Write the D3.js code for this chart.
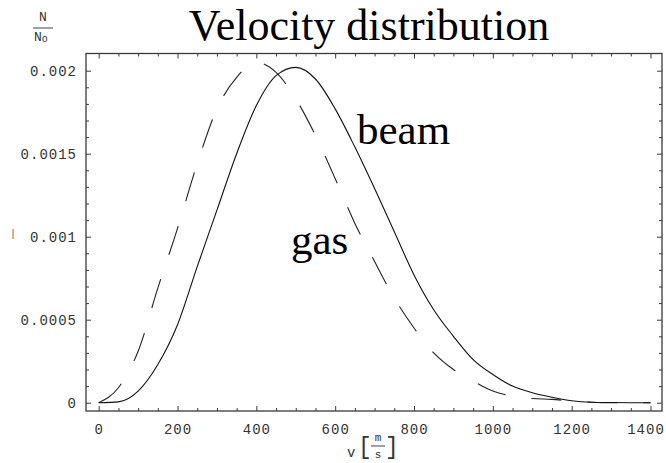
<!DOCTYPE html>
<html>
<head>
<meta charset="utf-8">
<script src="https://cdn.jsdelivr.net/npm/d3@7"></script>
<style>
  html, body { margin: 0; padding: 0; background: #fff; }
  svg { display: block; }
</style>
</head>
<body>
<svg id="chart" width="666" height="463"></svg>
<script>
// ---- data ----
const velocities = [0, 50, 100, 150, 200, 250, 300, 350, 400, 450, 500, 550, 600, 650, 700,
                    750, 800, 850, 900, 950, 1000, 1050, 1100, 1150, 1200, 1250, 1300, 1350, 1400];
const beamValues = [0, 0.000005, 0.00007, 0.00023, 0.00047, 0.00082, 0.00116, 0.00150, 0.00179, 0.00197,
                    0.00202, 0.00195, 0.00177, 0.00154, 0.00129, 0.00103, 0.00077, 0.00056, 0.00040, 0.00026,
                    0.00017, 0.00010, 0.00006, 0.000033, 0.000012, 0.000003, 0.000001, 0, 0];
const gasValues  = [0, 0.00009, 0.00031, 0.00069, 0.00105, 0.00144, 0.00177, 0.00196, 0.00205, 0.00199,
                    0.00183, 0.00161, 0.00135, 0.00108, 0.00085, 0.00063, 0.00045, 0.00030, 0.00020, 0.00013,
                    0.00007, 0.00004, 0.000025, 0.00002, 0.00001, 0.000003, 0, 0, 0];
const xMajorTicks = [0, 200, 400, 600, 800, 1000, 1200, 1400];
const xTickLabels = ["0", "200", "400", "600", "800", "1000", "1200", "1400"];
const yMajorTicks = [0, 0.0005, 0.001, 0.0015, 0.002];
const yTickLabels = ["0", "0.0005", "0.001", "0.0015", "0.002"];
const titleText = "Velocity distribution";
const seriesLabels = ["beam", "gas"];

// ---- layout ----
const frame = { left: 86, right: 662, top: 53.5, bottom: 411 };
const svg = d3.select("#chart");

const x = d3.scaleLinear().domain([0, 1400]).range([98.7, 650.5]);
const y = d3.scaleLinear().domain([0, 0.002]).range([402.7, 70.7]);

const xMinor = d3.range(0, 1400 + 1, 50).filter(v => !xMajorTicks.includes(v));
const yMinor = d3.range(0, 21).map(i => i * 0.0001).filter(v => !yMajorTicks.some(t => Math.abs(t - v) < 1e-9));

const axisColor = "#3a3a3a";
const monoFont = "'Liberation Mono', 'DejaVu Sans Mono', monospace";
const serifFont = "'Liberation Serif', 'DejaVu Serif', serif";

function styleAxis(g) {
  g.select(".domain").remove();
  g.selectAll(".tick line").attr("stroke", axisColor).attr("stroke-width", 1);
  g.selectAll(".tick text")
    .attr("fill", "#333")
    .style("font-family", monoFont)
    .style("font-size", "14px")
    .style("letter-spacing", "1px");
}

// bottom axis (major with labels, minor without)
const bottomAxis = svg.append("g").attr("transform", `translate(0,${frame.bottom})`)
  .call(d3.axisBottom(x).tickValues(xMajorTicks)
        .tickFormat((d, i) => xTickLabels[i]).tickSize(-5).tickPadding(13))
  .call(styleAxis);
// the last label is pulled inward so it stays inside the picture, as in the reference
bottomAxis.selectAll(".tick text").filter(d => d === 1400).attr("dx", -5);

svg.append("g").attr("transform", `translate(0,${frame.bottom})`)
  .call(d3.axisBottom(x).tickValues(xMinor).tickFormat("").tickSize(-3))
  .call(styleAxis);
// top axis
svg.append("g").attr("transform", `translate(0,${frame.top})`)
  .call(d3.axisTop(x).tickValues(xMajorTicks).tickFormat("").tickSize(-5))
  .call(styleAxis);
svg.append("g").attr("transform", `translate(0,${frame.top})`)
  .call(d3.axisTop(x).tickValues(xMinor).tickFormat("").tickSize(-3))
  .call(styleAxis);
// left axis
svg.append("g").attr("transform", `translate(${frame.left},0)`)
  .call(d3.axisLeft(y).tickValues(yMajorTicks)
        .tickFormat((d, i) => yTickLabels[i]).tickSize(-5).tickPadding(9))
  .call(styleAxis);
svg.append("g").attr("transform", `translate(${frame.left},0)`)
  .call(d3.axisLeft(y).tickValues(yMinor).tickFormat("").tickSize(-3))
  .call(styleAxis);
// right axis
svg.append("g").attr("transform", `translate(${frame.right},0)`)
  .call(d3.axisRight(y).tickValues(yMajorTicks).tickFormat("").tickSize(-5))
  .call(styleAxis);
svg.append("g").attr("transform", `translate(${frame.right},0)`)
  .call(d3.axisRight(y).tickValues(yMinor).tickFormat("").tickSize(-3))
  .call(styleAxis);

// frame
svg.append("rect")
  .attr("x", frame.left).attr("y", frame.top)
  .attr("width", frame.right - frame.left).attr("height", frame.bottom - frame.top)
  .attr("fill", "none").attr("stroke", axisColor).attr("stroke-width", 1.3);

// curves
const line = d3.line().x((d, i) => x(velocities[i])).y(d => y(d)).curve(d3.curveMonotoneX);
svg.append("path").datum(gasValues)
  .attr("d", line).attr("fill", "none")
  .attr("stroke", "#222").attr("stroke-width", 1.1)
  .attr("stroke-dasharray", "30,26");
svg.append("path").datum(beamValues)
  .attr("d", line).attr("fill", "none")
  .attr("stroke", "#111").attr("stroke-width", 1.1);

// title
svg.append("text").attr("x", 369).attr("y", 40)
  .attr("text-anchor", "middle")
  .style("font-family", serifFont).style("font-size", "44px").attr("fill", "#000")
  .text(titleText);

// series labels
svg.append("text").attr("x", 357).attr("y", 144)
  .style("font-family", serifFont).style("font-size", "43px").attr("fill", "#000")
  .text(seriesLabels[0]);
svg.append("text").attr("x", 291).attr("y", 254)
  .style("font-family", serifFont).style("font-size", "43px").attr("fill", "#000")
  .text(seriesLabels[1]);

// y axis label: N / N_o
const yl = svg.append("g").style("font-family", monoFont).attr("fill", "#333");
yl.append("text").attr("x", 43).attr("y", 21).attr("text-anchor", "middle")
  .style("font-size", "13px").text("N");
yl.append("line").attr("x1", 33).attr("x2", 53).attr("y1", 28).attr("y2", 28)
  .attr("stroke", "#444").attr("stroke-width", 1);
const nn = yl.append("text").attr("x", 34).attr("y", 41).style("font-size", "13px");
nn.append("tspan").text("N");
nn.append("tspan").attr("dy", 1).style("font-size", "10px").text("o");

// small stray mark left of the axis in the reference
svg.append("text").attr("x", 10).attr("y", 237)
  .style("font-family", monoFont).style("font-size", "10px").attr("fill", "#555").text("|");

// x axis label: v [ m / s ]
const xl = svg.append("g").style("font-family", monoFont).attr("fill", "#333");
xl.append("text").attr("x", 347).attr("y", 457).style("font-size", "14px").text("v");
xl.append("text").attr("x", 358).attr("y", 454).style("font-size", "23px").text("[");
xl.append("text").attr("x", 378).attr("y", 441).attr("text-anchor", "middle").style("font-size", "11px").text("m");
xl.append("line").attr("x1", 371).attr("x2", 385).attr("y1", 446).attr("y2", 446)
  .attr("stroke", "#444").attr("stroke-width", 1);
xl.append("text").attr("x", 378).attr("y", 458).attr("text-anchor", "middle").style("font-size", "11px").text("s");
xl.append("text").attr("x", 385).attr("y", 454).style("font-size", "23px").text("]");
</script>
</body>
</html>
